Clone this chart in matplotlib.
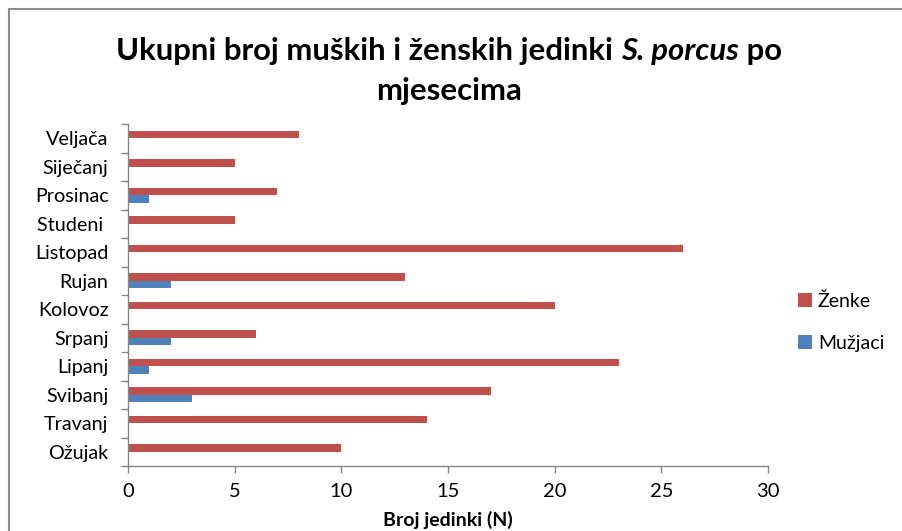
import matplotlib
matplotlib.use("Agg")
import matplotlib.pyplot as plt
import numpy as np
from matplotlib.patches import Rectangle

plt.rcParams['font.family'] = ['Lato', 'DejaVu Sans']

# data (bottom to top, as drawn)
months = ['Ožujak', 'Travanj', 'Svibanj', 'Lipanj', 'Srpanj', 'Kolovoz',
          'Rujan', 'Listopad', 'Studeni ', 'Prosinac', 'Siječanj', 'Veljača']
zenke = [10, 14, 17, 23, 6, 20, 13, 26, 5, 7, 5, 8]
muzjaci = [0, 0, 3, 1, 2, 0, 2, 0, 0, 1, 0, 0]

red = '#C0504D'
blue = '#4F81BD'
grey = '#868686'

fig = plt.figure(figsize=(9.02, 5.31), dpi=100)
ax = fig.add_axes([128/902, 1-466/531, 640/902, 342/531])

y = np.arange(len(months))
h = 0.26
ax.barh(y + h/2, zenke, height=h, color=red, label='Ženke')
ax.barh(y - h/2, muzjaci, height=h, color=blue, label='Mužjaci')

ax.set_xlim(0, 30)
ax.set_ylim(-0.5, len(months) - 0.5)
ax.set_xticks(range(0, 31, 5))
ax.set_yticks(y)
ax.set_yticklabels(months)
ax.set_yticks(np.arange(-0.5, len(months), 1), minor=True)
ax.tick_params(axis='y', which='major', length=0, labelsize=14.2, pad=14)
ax.tick_params(axis='y', which='minor', length=5, color=grey, width=1)
ax.tick_params(axis='x', length=5, color=grey, width=1, labelsize=14.5, pad=7)

for s in ['top', 'right']:
    ax.spines[s].set_visible(False)
for s in ['left', 'bottom']:
    ax.spines[s].set_color(grey)
    ax.spines[s].set_linewidth(1)

ax.set_xlabel('Broj jedinki (N)', fontsize=14, fontweight='bold', labelpad=8)

# legend
handles, labels = ax.get_legend_handles_labels()
fig.legend(handles, labels, loc='center left', bbox_to_anchor=(780/902, 1-322/531),
           frameon=False, fontsize=14, handlelength=0.75, handleheight=0.75,
           handletextpad=0.3, labelspacing=1.3)

# title with italic species name, centered
fs = 22.4
parts = [('Ukupni broj muških i ženskih jedinki ', 'normal'),
         ('S. porcus', 'italic'),
         (' po', 'normal')]
texts = []
for txt, style in parts:
    t = fig.text(0, 1-51/531, txt, fontsize=fs, fontweight='bold', style=style,
                 va='center', ha='left')
    texts.append(t)
fig.canvas.draw()
r = fig.canvas.get_renderer()
widths = [t.get_window_extent(r).width for t in texts]
x0 = 449 - sum(widths) / 2
for t, w in zip(texts, widths):
    t.set_x(x0 / 902)
    x0 += w
fig.text(449/902, 1-91/531, 'mjesecima', fontsize=fs, fontweight='bold',
         va='center', ha='center')

# outer chart frame
fig.patches.append(Rectangle((8.5/902, -0.1), 1.2, 1 - 8.5/531 + 0.1,
                             transform=fig.transFigure, fill=False,
                             edgecolor='#8c8c8c', linewidth=1.5))

fig.savefig('out.png', dpi=100)
